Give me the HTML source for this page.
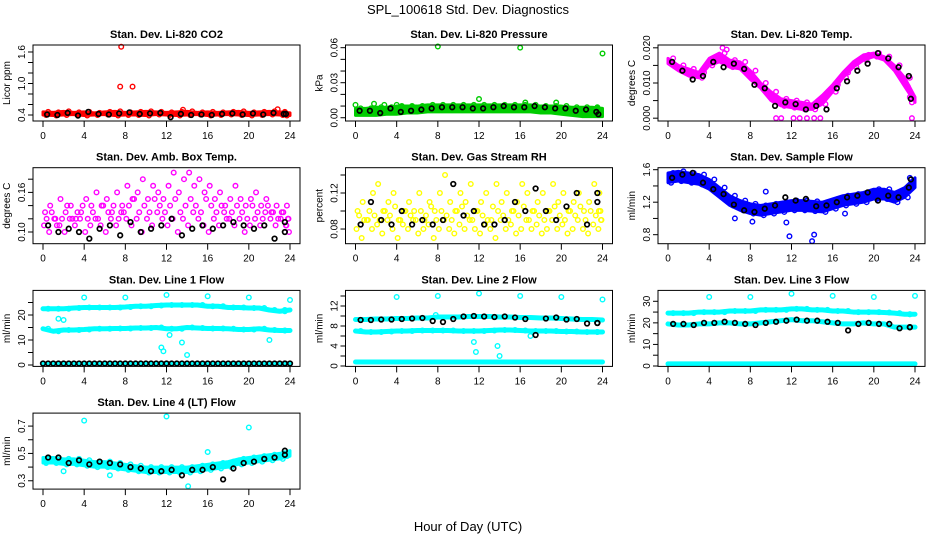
<!DOCTYPE html>
<html><head><meta charset="utf-8"><style>
body{margin:0;background:#fff}
svg{display:block;font-family:"Liberation Sans",sans-serif}
</style></head><body>
<svg id="chart" width="936" height="540" viewBox="0 0 936 540">
<text x="468" y="14" font-size="13" text-anchor="middle">SPL_100618  Std. Dev. Diagnostics</text>
<text x="468" y="531" font-size="13" text-anchor="middle">Hour of Day (UTC)</text>
</svg>
<script>
const HOURS=[0,1,2,3,4,5,6,7,8,9,10,11,12,13,14,15,16,17,18,19,20,21,22,23,24];
const HALF=[0,0.5,1,1.5,2,2.5,3,3.5,4,4.5,5,5.5,6,6.5,7,7.5,8,8.5,9,9.5,10,10.5,11,11.5,12,12.5,13,13.5,14,14.5,15,15.5,16,16.5,17,17.5,18,18.5,19,19.5,20,20.5,21,21.5,22,22.5,23,23.5,24];
const xTicks=[0,4,8,12,16,20,24];
// P1 CO2
const co2Hi=[0.46,0.45,0.47,0.45,0.46,0.44,0.46,0.47,0.45,0.46,0.47,0.46,0.45,0.46,0.47,0.45,0.46,0.45,0.46,0.47,0.45,0.46,0.47,0.46,0.44];
const co2Lo=[0.40,0.39,0.40,0.41,0.39,0.40,0.41,0.39,0.40,0.40,0.39,0.41,0.40,0.39,0.40,0.41,0.39,0.40,0.41,0.40,0.39,0.40,0.41,0.40,0.39];
const co2OutT=[7.6,7.5,8.7,13.6,22.8];
const co2OutV=[1.7,0.94,0.94,0.5,0.51];
const co2Blk=[0.41,0.40,0.44,0.39,0.46,0.42,0.41,0.43,0.45,0.42,0.43,0.44,0.36,0.42,0.40,0.41,0.40,0.42,0.43,0.41,0.43,0.41,0.44,0.42,0.42];
// P2 pressure
const prHi=[0.008,0.008,0.009,0.009,0.010,0.010,0.010,0.011,0.011,0.011,0.011,0.011,0.011,0.011,0.011,0.011,0.011,0.011,0.010,0.010,0.010,0.009,0.009,0.009,0.008];
const prLo=[0.002,0.002,0.002,0.003,0.003,0.004,0.004,0.005,0.005,0.005,0.005,0.005,0.005,0.005,0.005,0.005,0.005,0.005,0.004,0.004,0.003,0.002,0.001,0.001,0.001];
const prOutT=[0,8,16,24,12,16.5,19.5,1.8,2.8,4];
const prOutV=[0.011,0.061,0.060,0.055,0.016,0.013,0.013,0.012,0.011,0.011];
const prBlk=[0.006,0.006,0.004,0.008,0.005,0.006,0.007,0.008,0.009,0.009,0.009,0.008,0.008,0.009,0.010,0.009,0.009,0.010,0.009,0.008,0.008,0.006,0.007,0.005,0.003];
// P3 temp
const tHi=[.0170,.0150,.0140,.0130,.0170,.0185,.0165,.0160,.0135,.0100,.0075,.0055,.0050,.0045,.0040,.0065,.0095,.0130,.0160,.0180,.0185,.0175,.0150,.0115,.0060];
const tLo=[.0155,.0135,.0120,.0115,.0150,.0160,.0145,.0140,.0110,.0085,.0050,.0035,.0030,.0025,.0025,.0040,.0075,.0115,.0145,.0165,.0175,.0165,.0135,.0090,.0045];
const tOutT=[10.5,11,12.2,12.8,13.5,14.2,14.8,23.7,5.3,5.7];
const tOutV=[0,0,0,0,0,0,0,0,0.020,0.0195];
const tBlk=[.016,.0135,.011,.012,.016,.0145,.0155,.014,.0095,.0085,.0035,.0045,.004,.0025,.0035,.0025,.0085,.0105,.0135,.0155,.0185,.017,.0145,.012,.0055];
// P4 amb box temp
const ambA=[0.13,0.14,0.12,0.15,0.13,0.14,0.12,0.13,0.15,0.14,0.16,0.14,0.15,0.13,0.16,0.14,0.17,0.15,0.16,0.18,0.15,0.17,0.16,0.15,0.17,0.19,0.16,0.18,0.19,0.17,0.18,0.16,0.17,0.15,0.16,0.14,0.15,0.17,0.15,0.14,0.15,0.16,0.14,0.15,0.13,0.14,0.13,0.14,0.12];
const ambB=[0.11,0.10,0.12,0.11,0.10,0.12,0.11,0.12,0.10,0.11,0.12,0.11,0.10,0.12,0.11,0.13,0.12,0.11,0.12,0.10,0.12,0.11,0.13,0.12,0.11,0.12,0.10,0.12,0.11,0.13,0.12,0.11,0.10,0.12,0.11,0.13,0.12,0.11,0.12,0.10,0.11,0.12,0.11,0.13,0.12,0.11,0.12,0.11,0.10];
const ambC=[0.12,0.13,0.11,0.12,0.14,0.12,0.13,0.14,0.12,0.13,0.12,0.14,0.13,0.14,0.12,0.13,0.14,0.15,0.13,0.14,0.13,0.15,0.14,0.13,0.14,0.15,0.13,0.14,0.15,0.14,0.13,0.15,0.14,0.13,0.14,0.12,0.13,0.14,0.13,0.12,0.14,0.13,0.12,0.14,0.13,0.12,0.13,0.12,0.11];
const ambBlk=[0.11,0.10,0.105,0.10,0.09,0.105,0.11,0.095,0.115,0.10,0.105,0.11,0.12,0.095,0.105,0.11,0.105,0.11,0.115,0.11,0.105,0.11,0.09,0.10,0.115];
// P5 RH
const rhA=[0.10,0.11,0.09,0.12,0.13,0.10,0.11,0.12,0.09,0.10,0.11,0.10,0.12,0.09,0.11,0.10,0.12,0.14,0.11,0.10,0.12,0.11,0.13,0.10,0.11,0.12,0.09,0.13,0.11,0.12,0.10,0.11,0.13,0.12,0.10,0.11,0.12,0.10,0.13,0.11,0.12,0.10,0.11,0.12,0.10,0.11,0.13,0.12,0.10];
const rhB=[0.08,0.07,0.09,0.08,0.085,0.075,0.09,0.08,0.07,0.085,0.08,0.09,0.075,0.08,0.085,0.07,0.08,0.09,0.08,0.075,0.085,0.08,0.09,0.08,0.075,0.085,0.08,0.07,0.09,0.08,0.085,0.075,0.08,0.09,0.08,0.085,0.075,0.08,0.09,0.08,0.085,0.075,0.08,0.09,0.08,0.075,0.085,0.08,0.09];
const rhC=[0.095,0.09,0.10,0.095,0.09,0.10,0.095,0.105,0.09,0.10,0.095,0.09,0.10,0.095,0.105,0.09,0.10,0.095,0.09,0.10,0.105,0.095,0.09,0.10,0.095,0.09,0.105,0.10,0.095,0.09,0.10,0.095,0.105,0.09,0.10,0.095,0.09,0.10,0.105,0.095,0.09,0.10,0.095,0.105,0.09,0.10,0.095,0.09,0.10];
const rhBlk=[0.085,0.11,0.09,0.085,0.10,0.085,0.09,0.085,0.09,0.13,0.095,0.10,0.085,0.085,0.09,0.11,0.10,0.125,0.10,0.09,0.105,0.12,0.085,0.12,0.11];
// P6 sample flow
const sfHi=[1.56,1.58,1.56,1.54,1.48,1.38,1.28,1.22,1.18,1.16,1.18,1.20,1.22,1.22,1.21,1.20,1.24,1.28,1.30,1.32,1.36,1.36,1.32,1.38,1.50];
const sfLo=[1.44,1.46,1.44,1.42,1.36,1.26,1.16,1.10,1.06,1.04,1.06,1.08,1.10,1.10,1.09,1.08,1.12,1.16,1.18,1.20,1.24,1.24,1.20,1.26,1.38];
const sfOutT=[11.5,11.8,14,14.2,6.5,8.2,9.5,17.2];
const sfOutV=[0.95,0.78,0.72,0.8,1.0,0.96,1.33,1.06];
const sfBlk=[1.50,1.54,1.56,1.44,1.36,1.30,1.17,1.10,1.08,1.12,1.16,1.26,1.22,1.24,1.15,1.16,1.20,1.26,1.28,1.32,1.22,1.28,1.26,1.38,1.48];
// P7 line1
const l1Hi=[22.5,22.5,22.5,22.8,23,23,23,23,23.2,23.5,23.5,23.8,24,24,24,24,23.5,23.5,23,23,22.8,22.8,22,21.5,22];
const l1Mid=[14.5,13.5,14,14,14.2,14.5,14.5,14.6,14.6,14.8,14.8,15,14.5,14.5,15,14.8,14.6,14.6,14.5,14.2,14.2,14.5,14,13.8,13.8];
const l1Low=[0.6,0.6,0.6,0.6,0.6,0.6,0.6,0.6,0.6,0.6,0.6,0.6,0.6,0.6,0.6,0.6,0.6,0.6,0.6,0.6,0.6,0.6,0.6,0.6,0.6];
const l1OutT=[4,8,12,16,20,24,11.5,11.7,13.5,14,12.3,22,1.5,2];
const l1OutV=[27,27,28,27.5,27,26,7,5.5,9,4,12,10,18.5,18];
const l1Blk=[0.6,0.6,0.6,0.6,0.6,0.6,0.6,0.6,0.6,0.6,0.6,0.6,0.6,0.6,0.6,0.6,0.6,0.6,0.6,0.6,0.6,0.6,0.6,0.6,0.6];
// P8 line2
const l2Hi=[9.3,9.3,9.4,9.4,9.5,9.5,9.6,9.6,9.8,9.8,9.8,9.9,9.9,9.9,9.8,9.8,9.7,9.7,9.6,9.6,9.5,9.4,9.3,9.3,9.2];
const l2Mid=[7.0,6.8,6.8,6.9,7.0,7.0,7.1,7.1,7.1,7.1,7.0,7.0,7.0,7.1,7.2,7.2,7.1,7.0,7.0,7.0,6.9,6.9,6.8,6.8,6.8];
const l2Low=[0.8,0.8,0.8,0.8,0.8,0.8,0.8,0.8,0.8,0.8,0.8,0.8,0.8,0.8,0.8,0.8,0.8,0.8,0.8,0.8,0.8,0.8,0.8,0.8,0.8];
const l2OutT=[4,8,12,16,20,24,11.5,11.7,13.8,14,7.8,17];
const l2OutV=[13.8,14,14.5,14,13.8,13.3,4.8,2.8,4,2,10.2,6];
const l2Blk=[9.2,9.2,9.3,9.3,9.4,9.5,9.6,9.0,8.8,9.4,9.9,10.0,9.9,9.8,9.9,9.7,9.4,6.2,9.5,9.7,9.3,9.4,8.5,8.6,8.6];
// P9 line3
const l3Hi=[24.5,24.5,24.5,25,25,25,25.5,25.5,25.5,26,26,26,26.5,26.5,26,26,25.5,25.5,25,25,25,24.8,24.5,24,24];
const l3Mid=[19.5,19,19,19.5,19.5,20,20,19.5,19.5,20,20.5,21,21.5,21,21,20.5,20,19.5,19.5,20,19.5,19.5,18,18,18];
const l3Low=[1,1,1,1,1,1,1,1,1,1,1,1,1,1,1,1,1,1,1,1,1,1,1,1,1];
const l3OutT=[4,8,12,16,20,24];
const l3OutV=[32,32,33.5,32.5,32,32.5];
const l3Blk=[19.5,19.5,19,20,20,20.5,20,19.5,19,20,20.5,21,21.5,21,21,20.5,20,16.5,19.5,20,19.5,19.5,17.5,18,18];
// P10 line4
const l4Hi=[0.47,0.47,0.46,0.46,0.45,0.44,0.44,0.43,0.42,0.41,0.40,0.40,0.40,0.40,0.40,0.41,0.42,0.43,0.44,0.46,0.47,0.48,0.49,0.50,0.52];
const l4Lo=[0.43,0.43,0.42,0.42,0.41,0.40,0.40,0.39,0.38,0.37,0.36,0.36,0.36,0.36,0.36,0.37,0.38,0.39,0.40,0.42,0.43,0.44,0.45,0.46,0.48];
const l4OutT=[4,12,20,16,2,6.5,14.1];
const l4OutV=[0.74,0.77,0.69,0.51,0.37,0.34,0.26];
const l4Blk=[0.47,0.47,0.43,0.45,0.42,0.44,0.43,0.42,0.40,0.39,0.37,0.37,0.38,0.34,0.38,0.38,0.40,0.31,0.39,0.43,0.44,0.46,0.47,0.49,0.52];

const NS='http://www.w3.org/2000/svg';
const svg=document.getElementById('chart');
function mk(tag,attrs,parent){const e=document.createElementNS(NS,tag);for(const k in attrs)e.setAttribute(k,attrs[k]);(parent||svg).appendChild(e);return e;}

function panel(key,c,r,title,ylab,ymin,ymax,ticks,labels){
  const L=33+312.5*c,R=300+312.5*c,T=45+122.7*r,B=T+76;
  const g=mk('g',{});
  
  
  const X=h=>L+10+h*(R-L-20)/24;
  const Y=v=>B-(v-ymin)/(ymax-ymin)*76;
  const t=mk('text',{x:(L+R)/2,y:T-7,'font-size':11,'font-weight':'bold','text-anchor':'middle'},g);
  t.textContent=title;
  
  
  const yl=mk('text',{transform:`translate(${L-23},${(T+B)/2}) rotate(-90)`,'font-size':10,'text-anchor':'middle'},g);
  yl.textContent=ylab;
  
  
  xTicks.forEach(h=>{
    mk('line',{x1:X(h),x2:X(h),y1:B,y2:B+6,stroke:'#000'},g);
    const tx=mk('text',{x:X(h),y:B+18,'font-size':10,'text-anchor':'middle'},g);
    tx.textContent=h;
    
    
  });
  ticks.forEach(v=>{mk('line',{x1:L-5,x2:L,y1:Y(v),y2:Y(v),stroke:'#000'},g);});
  labels.forEach(s=>{
    const ty=mk('text',{transform:`translate(${L-8},${Y(parseFloat(s))}) rotate(-90)`,'font-size':10,'text-anchor':'middle'},g);
    ty.textContent=s;
    
    
  });
  const data=mk('g',{},g);
  const api={X,Y,
    band(ts,hi,lo,col){
      const pts=ts.map((h,i)=>X(h)+','+Y(hi[i])).concat(ts.map((h,i)=>X(h)+','+Y(lo[i])).reverse());
      const p=mk('polygon',{points:pts.join(' '),fill:col,stroke:col,'stroke-width':3,'stroke-linejoin':'round'},data);
      
      
    },
    line(ts,vs,col,w){
      const p=mk('polyline',{points:ts.map((h,i)=>X(h)+','+Y(vs[i])).join(' '),fill:'none',stroke:col,'stroke-width':w,'stroke-linejoin':'round','stroke-linecap':'round'},data);
      
      
    },
    pts(ts,vs,col,off){
      ts.forEach((h,i)=>{
        let hh=h+(off||0); if(hh>24) hh=h-(off||0);
        const e=mk('circle',{cx:X(hh),cy:Y(vs[i]),r:2.3,fill:'none',stroke:col,'stroke-width':col==='#000'?1.7:1.4},data);
        
        
      });
    }};
  mk('rect',{x:L,y:T,width:R-L,height:76,fill:'none',stroke:'#000','stroke-width':1},g);
  return api;
}
const RED='#ff0000',GRN='#00cc00',MAG='#ff00ff',YEL='#ffff00',BLU='#0000ff',CYN='#00ffff',BLK='#000';
let p;
p=panel('co2',0,0,'Stan. Dev. Li-820 CO2','Licor ppm',0.286,1.733,[0.4,0.6,0.8,1.0,1.2,1.4,1.6],['0.4','1.0','1.6']);
p.band(HOURS,co2Hi,co2Lo,RED);p.pts(HOURS,co2Hi,RED,0.5);p.pts(HOURS,co2Lo,RED,0.3);p.pts(co2OutT,co2OutV,RED);p.pts(HOURS,co2Blk,BLK,0.4);
p=panel('pressure',1,0,'Stan. Dev. Li-820 Pressure','kPa',-0.0028,0.0623,[0,0.01,0.02,0.03,0.04,0.05,0.06],['0.00','0.03','0.06']);
p.band(HOURS,prHi,prLo,GRN);p.pts(HOURS,prHi,GRN,0.5);p.pts(prOutT,prOutV,GRN);p.pts(HOURS,prBlk,BLK,0.4);
p=panel('temp',2,0,'Stan. Dev. Li-820 Temp.','degrees C',-0.0008,0.0208,[0,0.005,0.01,0.015,0.02],['0.000','0.010','0.020']);
p.band(HOURS,tHi,tLo,MAG);p.pts(HOURS,tHi,MAG,0.5);p.pts(HOURS,tLo,MAG,0.3);p.pts(tOutT,tOutV,MAG);p.pts(HOURS,tBlk,BLK,0.4);
p=panel('amb',0,1,'Stan. Dev. Amb. Box Temp.','degrees C',0.0823,0.1974,[0.10,0.12,0.14,0.16,0.18],['0.10','0.16']);
p.pts(HALF,ambA,MAG,0.2);p.pts(HALF,ambB,MAG,0.1);p.pts(HALF,ambC,MAG,0.35);p.pts(HOURS,ambBlk,BLK,0.5);
p=panel('rh',1,1,'Stan. Dev. Gas Stream RH','percent',0.0637,0.1481,[0.08,0.10,0.12,0.14],['0.08','0.12']);
p.pts(HALF,rhA,YEL,0.2);p.pts(HALF,rhB,YEL,0.1);p.pts(HALF,rhC,YEL,0.35);p.pts(HOURS,rhBlk,BLK,0.5);
p=panel('sampleflow',2,1,'Stan. Dev. Sample Flow','ml/min',0.689,1.6246,[0.8,1.0,1.2,1.4,1.6],['0.8','1.2','1.6']);
p.band(HOURS,sfHi,sfLo,BLU);p.pts(HOURS,sfHi,BLU,0.5);p.pts(HOURS,sfLo,BLU,0.3);p.pts(sfOutT,sfOutV,BLU);p.pts(HOURS,sfBlk,BLK,0.4);
p=panel('line1',0,2,'Stan. Dev. Line 1 Flow','ml/min',-0.56,29.84,[0,5,10,15,20,25],['0','10','20']);
p.line(HOURS,l1Hi,CYN,5);p.line(HOURS,l1Mid,CYN,5);p.line(HOURS,l1Low,CYN,4);p.pts(HOURS,l1Hi,CYN,0.5);p.pts(HOURS,l1Mid,CYN,0.5);p.pts(l1OutT,l1OutV,CYN);p.pts(HOURS,l1Blk,BLK,0.5);p.pts(HOURS,l1Blk,BLK);
p=panel('line2',1,2,'Stan. Dev. Line 2 Flow','ml/min',-0.08,15.12,[0,2,4,6,8,10,12,14],['0','4','8','12']);
p.line(HOURS,l2Hi,CYN,5);p.line(HOURS,l2Mid,CYN,5);p.line(HOURS,l2Low,CYN,5);p.pts(HOURS,l2Mid,CYN,0.5);p.pts(l2OutT,l2OutV,CYN);p.pts(HOURS,l2Blk,BLK,0.5);
p=panel('line3',2,2,'Stan. Dev. Line 3 Flow','ml/min',-0.19,35.05,[0,5,10,15,20,25,30],['0','10','20','30']);
p.line(HOURS,l3Hi,CYN,5);p.line(HOURS,l3Mid,CYN,5);p.line(HOURS,l3Low,CYN,5);p.pts(HOURS,l3Hi,CYN,0.5);p.pts(l3OutT,l3OutV,CYN);p.pts(HOURS,l3Blk,BLK,0.5);
p=panel('line4',0,3,'Stan. Dev. Line 4 (LT) Flow','ml/min',0.239,0.795,[0.3,0.4,0.5,0.6,0.7],['0.3','0.5','0.7']);
p.band(HOURS,l4Hi,l4Lo,CYN);p.pts(HOURS,l4Hi,CYN,0.5);p.pts(HOURS,l4Lo,CYN,0.3);p.pts(l4OutT,l4OutV,CYN);p.pts(HOURS,l4Blk,BLK,0.5);
</script>
</body></html>
